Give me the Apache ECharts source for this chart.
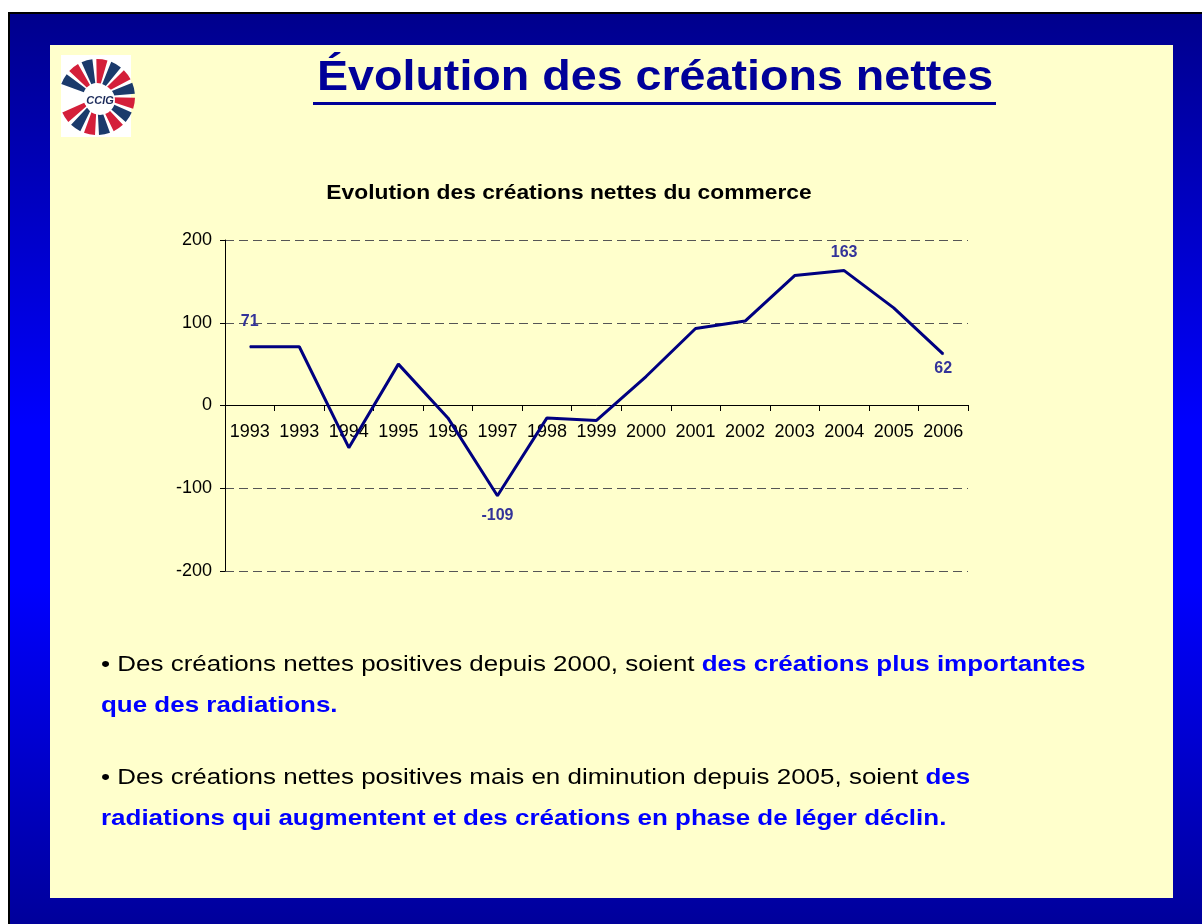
<!DOCTYPE html>
<html>
<head>
<meta charset="utf-8">
<script src="https://cdn.jsdelivr.net/npm/echarts@6/dist/echarts.min.js"></script>
<style>
  html, body { margin: 0; padding: 0; background: #ffffff; }
  #main { width: 1202px; height: 924px; }
</style>
</head>
<body>
<div id="main"></div>
<script>
const years = ["1993", "1993", "1994", "1995", "1996", "1997", "1998", "1999", "2000", "2001", "2002", "2003", "2004", "2005", "2006"];
const netCreations = [71, 71, -51, 50, -15, -109, -15, -18, 35, 93, 102, 157, 163, 118, 62];
const yTicks = { min: -200, max: 200, step: 100 };
// points that carry a value label : index -> [placement, distance]
const labelled = { 0: ["top", 17], 5: ["bottom", 11], 12: ["top", 10], 14: ["bottom", 6] };

const font = "'Liberation Sans', Arial, sans-serif";
const chart = echarts.init(document.getElementById("main"));

// logo wedges (decoration only)
const logo = [
  { type: "rect", shape: { x: 61, y: 55, width: 70, height: 82 }, style: { fill: "#ffffff" }, z: -5 },
];
for (let i = 0; i < 14; i++) {
  const a0 = (-160 + i * 23) * Math.PI / 180;
  logo.push({
    type: "sector",
    shape: { cx: 97, cy: 97, r0: 14, r: 38, startAngle: a0, endAngle: a0 + 17 * Math.PI / 180 },
    style: { fill: i % 2 === 0 ? "#1b3a6b" : "#d41f3a" },
    z: -4,
  });
}
logo.push({ type: "circle", shape: { cx: 100, cy: 100, r: 15 }, style: { fill: "#ffffff" }, z: -3 });
logo.push({
  type: "text", x: 100, y: 101, z: -2,
  style: { text: "CCIG", font: "italic bold 11px " + font, fill: "#1b2a5a", align: "center", verticalAlign: "middle" },
});

const bullet = (y, plain, strong) => ({
  type: "text", x: 101, y: y, z: -1, scaleX: 1.18,
  style: {
    text: (plain ? "{n|" + plain + "}" : "") + (strong ? "{b|" + strong + "}" : ""),
    verticalAlign: "middle",
    rich: {
      n: { font: "22px " + font, fill: "#000000" },
      b: { font: "bold 22px " + font, fill: "#0000ff" },
    },
  },
});

const option = {
  backgroundColor: "#ffffff",
  animation: false,
  graphic: [
    {
      type: "rect", z: -10,
      shape: { x: 9, y: 13, width: 1200, height: 920 },
      style: {
        stroke: "#000000", lineWidth: 2,
        fill: new echarts.graphic.LinearGradient(0, 0, 0, 1, [
          { offset: 0, color: "#00008c" },
          { offset: 0.45, color: "#0000ff" },
          { offset: 0.62, color: "#0000ff" },
          { offset: 1, color: "#000098" },
        ]),
      },
    },
    { type: "rect", z: -9, shape: { x: 50, y: 45, width: 1123, height: 853 }, style: { fill: "#ffffcc" } },
    ...logo,
    {
      type: "text", x: 655, y: 78, z: -1, scaleX: 1.11,
      style: { text: "Évolution des créations nettes", font: "bold 42px " + font, fill: "#000099", align: "center", verticalAlign: "middle" },
    },
    { type: "rect", z: -1, shape: { x: 313, y: 102, width: 683, height: 3 }, style: { fill: "#000099" } },
    {
      type: "text", x: 569, y: 193, z: -1, scaleX: 1.14,
      style: { text: "Evolution des créations nettes du commerce", font: "bold 20px " + font, fill: "#000000", align: "center", verticalAlign: "middle" },
    },
    bullet(665, "• Des créations nettes positives depuis 2000, soient ", "des créations plus importantes"),
    bullet(706, "", "que des radiations."),
    bullet(778, "• Des créations nettes positives mais en diminution depuis 2005, soient ", "des"),
    bullet(819, "", "radiations qui augmentent et des créations en phase de léger déclin."),
  ],
  grid: { left: 225, right: 234, top: 240, bottom: 353 },
  xAxis: {
    type: "category",
    data: years,
    boundaryGap: true,
    position: "bottom",
    offset: -166,
    axisLine: { onZero: false, lineStyle: { color: "#000000", width: 1 } },
    axisTick: { show: true, length: 6, lineStyle: { color: "#000000" } },
    axisLabel: { interval: 0, margin: 18, fontFamily: font, fontSize: 18, color: "#000000" },
    splitLine: { show: false },
  },
  yAxis: {
    type: "value",
    min: yTicks.min, max: yTicks.max, interval: yTicks.step,
    axisLine: { show: true, lineStyle: { color: "#000000", width: 1 } },
    axisTick: { show: true, length: 5, lineStyle: { color: "#000000" } },
    axisLabel: { margin: 13, fontFamily: font, fontSize: 18, color: "#000000" },
    splitLine: { show: true, lineStyle: { color: "#555555", width: 1, type: [9, 5] } },
  },
  series: [
    {
      type: "line",
      data: netCreations.map((v, i) => {
        const lab = labelled[i];
        return {
          value: v,
          label: lab ? { show: true, position: lab[0], distance: lab[1] } : { show: false },
        };
      }),
      symbol: "circle",
      symbolSize: 1,
      showSymbol: true,
      itemStyle: { color: "#000080" },
      lineStyle: { color: "#000080", width: 3 },
      label: { fontFamily: font, fontSize: 16, fontWeight: "bold", color: "#333399" },
    },
  ],
};

chart.setOption(option);
</script>
</body>
</html>
